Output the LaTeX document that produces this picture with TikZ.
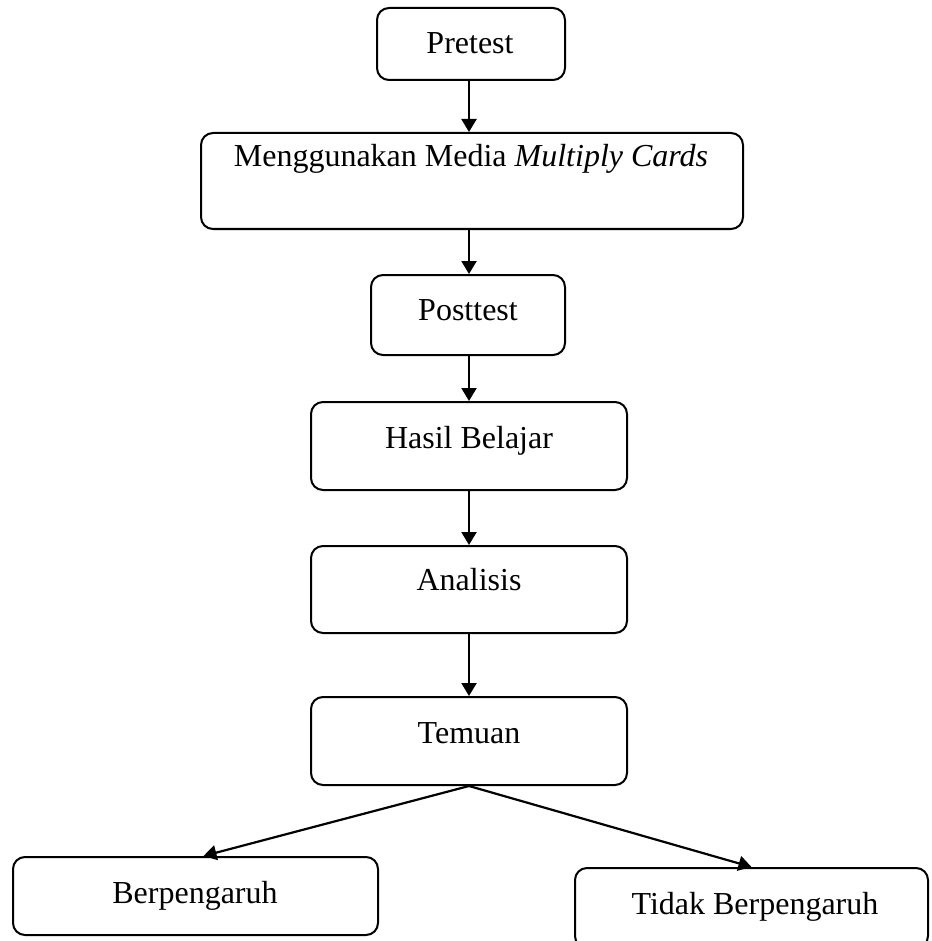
\documentclass[tikz,border=0pt]{standalone}
\usepackage{fontspec}
\setmainfont{Liberation Serif}
\usetikzlibrary{arrows.meta}
\begin{document}
\begin{tikzpicture}[x=0.5pt,y=-0.5pt,
  box/.style={draw, line width=1pt, rounded corners=6pt, inner sep=0pt},
  txt/.style={anchor=base, inner sep=0pt, font=\fontsize{16pt}{19pt}\selectfont},
  arr/.style={line width=1.1pt, -{Triangle[length=6.5pt,width=7.5pt]}}]
\useasboundingbox (0,0) rectangle (931,941);
% boxes
\node[box, minimum width=94pt, minimum height=36pt] (pre) at (471,44) {};
\node[box, minimum width=271pt, minimum height=48pt] (med) at (472,181) {};
\node[box, minimum width=97pt, minimum height=40pt] (post) at (468,315) {};
\node[box, minimum width=158pt, minimum height=44pt] (has) at (469,446) {};
\node[box, minimum width=158pt, minimum height=43.5pt] (ana) at (469,589.5) {};
\node[box, minimum width=158pt, minimum height=44pt] (tem) at (469,741) {};
\node[box, minimum width=182.5pt, minimum height=39pt] (ber) at (195.5,896) {};
\node[box, minimum width=176.5pt, minimum height=40pt] (tid) at (751.5,908) {};
% texts
\node[txt] (tpre) at (470,54) {Pretest};
\node[txt] (tmed) at (471,167) {Menggunakan Media \textit{Multiply Cards}};
\node[txt] (tpost) at (468,320) {Posttest};
\node[txt] (thas) at (469,448) {Hasil Belajar};
\node[txt] (tana) at (469,590) {Analisis};
\node[txt] (ttem) at (469,743) {Temuan};
\node[txt] (tber) at (195,903) {Berpengaruh};
\node[txt] (ttid) at (755,914) {Tidak Berpengaruh};
% connectors
\draw[arr] ([xshift=-1pt]pre.south) -- ([xshift=-1pt]pre.south |- med.north);
\draw[arr] ([xshift=-1.5pt]med.south) -- ([xshift=-1.5pt]med.south |- post.north);
\draw[arr] ([xshift=0.5pt]post.south) -- ([xshift=0.5pt]post.south |- has.north);
\draw[arr] (has.south) -- (ana.north);
\draw[arr] (ana.south) -- (tem.north);
\draw[arr] (tem.south) -- ([xshift=4pt]ber.north);
\draw[arr] (tem.south) -- (tid.north);
\end{tikzpicture}
\end{document}
